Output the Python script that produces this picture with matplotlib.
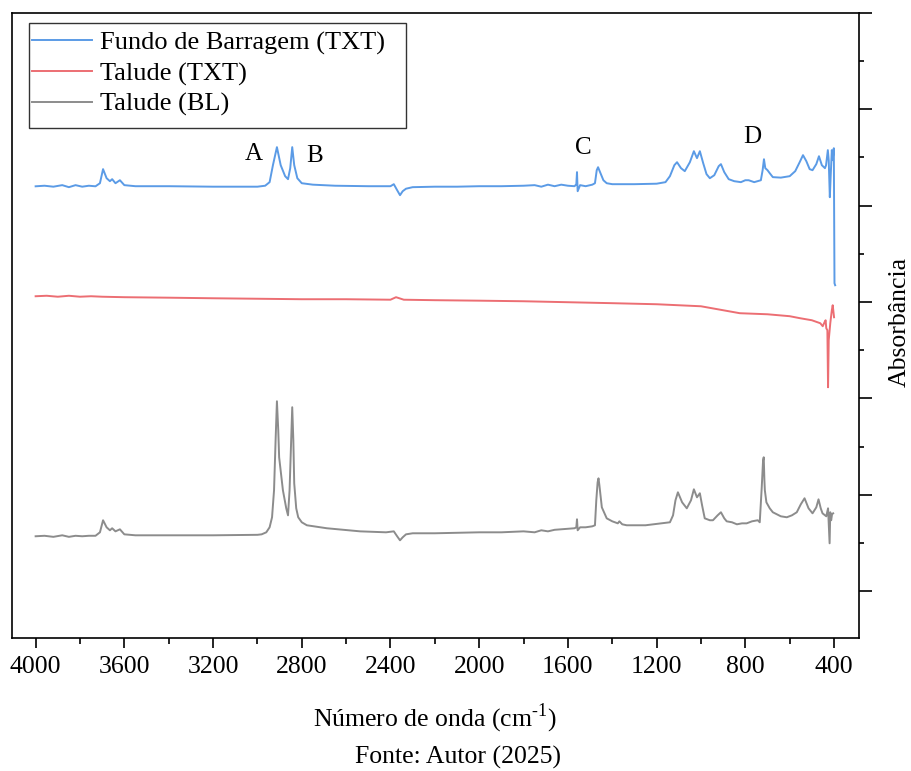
import numpy as np
import matplotlib
matplotlib.use("Agg")
import matplotlib.pyplot as plt
from matplotlib.ticker import MultipleLocator, NullFormatter
from matplotlib.patches import Rectangle

plt.rcParams['font.family'] = ['Liberation Serif', 'DejaVu Serif']
plt.rcParams['mathtext.fontset'] = 'custom'
plt.rcParams['mathtext.rm'] = 'Liberation Serif'

# FTIR spectra, values (absorbance in arbitrary units, stacked)
wn_fundo = [4000, 3960, 3920, 3880, 3850, 3820, 3790, 3760, 3730, 3710, 3696, 3680, 3665, 3655, 3640,
            3620, 3600, 3550, 3400, 3200, 3000, 2965, 2945, 2930, 2912, 2895, 2875, 2862, 2852, 2843,
            2834, 2820, 2800, 2750, 2650, 2500, 2400, 2385, 2370, 2357, 2345, 2330, 2300, 2200, 2100,
            2000, 1900, 1800, 1750, 1720, 1690, 1660, 1630, 1600, 1570, 1562, 1559, 1556, 1545, 1520,
            1490, 1478, 1470, 1464, 1455, 1440, 1425, 1400, 1300, 1200, 1160, 1140, 1120, 1108, 1090,
            1073, 1050, 1032, 1018, 1005, 990, 975, 960, 940, 920, 910, 895, 875, 850, 820,
            800, 785, 760, 730, 722, 716, 710, 700, 690, 676, 640, 600, 575, 555, 540,
            525, 510, 497, 480, 468, 455, 441, 436, 428, 424, 419, 415, 410, 406, 401, 398, 395]
abs_fundo = [4.20, 4.206, 4.196, 4.212, 4.191, 4.212, 4.196, 4.206, 4.20, 4.232, 4.378, 4.284, 4.253, 4.274, 4.232,
             4.263, 4.212, 4.201, 4.201, 4.196, 4.196, 4.206, 4.243, 4.419, 4.606, 4.419, 4.305, 4.274, 4.388, 4.606,
             4.419, 4.284, 4.232, 4.217, 4.206, 4.201, 4.201, 4.222, 4.160, 4.108, 4.149, 4.175, 4.191, 4.196, 4.196,
             4.201, 4.201, 4.206, 4.212, 4.196, 4.217, 4.201, 4.217, 4.206, 4.201, 4.222, 4.347, 4.149, 4.212, 4.201,
             4.217, 4.232, 4.367, 4.398, 4.347, 4.263, 4.232, 4.222, 4.222, 4.227, 4.243, 4.305, 4.419, 4.450, 4.388,
             4.357, 4.450, 4.564, 4.492, 4.564, 4.440, 4.326, 4.284, 4.315, 4.409, 4.430, 4.347, 4.274, 4.253, 4.243,
             4.263, 4.263, 4.243, 4.263, 4.367, 4.481, 4.388, 4.367, 4.336, 4.295, 4.290, 4.305, 4.357, 4.450, 4.523,
             4.461, 4.378, 4.367, 4.430, 4.512, 4.419, 4.388, 4.419, 4.575, 4.471, 4.087, 4.315, 4.575, 4.471, 4.595, 3.195, 3.174]

wn_talude_txt = [4000, 3950, 3900, 3850, 3800, 3750, 3700, 3600, 3400, 3200, 3000, 2800, 2600, 2400,
                 2375, 2360, 2340, 2200, 2000, 1800, 1600, 1400, 1200, 1000, 825, 700, 600, 553,
                 500, 462, 451, 443, 438, 435, 430, 427, 424, 417, 410, 406, 400]
abs_talude_txt = [3.060, 3.065, 3.055, 3.065, 3.055, 3.060, 3.055, 3.050, 3.045, 3.039, 3.034, 3.029, 3.029, 3.024,
                  3.050, 3.039, 3.024, 3.019, 3.014, 3.008, 2.998, 2.988, 2.977, 2.956, 2.884, 2.873, 2.853, 2.832,
                  2.811, 2.780, 2.749, 2.790, 2.811, 2.728, 2.708, 2.116, 2.604, 2.780, 2.915, 2.967, 2.842]

wn_talude_bl = [4000, 3960, 3920, 3880, 3850, 3820, 3790, 3760, 3730, 3710, 3696, 3680, 3665, 3655, 3640,
                3620, 3600, 3550, 3400, 3200, 3000, 2981, 2960, 2945, 2934, 2925, 2918, 2912, 2906, 2902,
                2885, 2870, 2862, 2855, 2848, 2843, 2838, 2834, 2825, 2816, 2800, 2777, 2687, 2537, 2420,
                2385, 2370, 2357, 2345, 2330, 2300, 2200, 2000, 1900, 1800, 1750, 1720, 1690, 1660, 1630,
                1600, 1570, 1562, 1559, 1556, 1545, 1520, 1490, 1478, 1472, 1466, 1462, 1458, 1447, 1425,
                1400, 1375, 1368, 1355, 1335, 1250, 1140, 1126, 1115, 1104, 1085, 1064, 1045, 1032, 1018,
                1005, 995, 983, 960, 946, 925, 910, 895, 884, 860, 838, 815, 794, 770, 744,
                735, 726, 720, 717, 714, 712, 705, 690, 676, 640, 613, 590, 568, 550, 533,
                515, 497, 480, 470, 460, 452, 435, 427, 420, 417, 413, 409, 404]
abs_talude_bl = [0.571, 0.576, 0.565, 0.581, 0.565, 0.576, 0.571, 0.576, 0.576, 0.612, 0.737, 0.664, 0.633, 0.654, 0.622,
                 0.643, 0.591, 0.581, 0.581, 0.581, 0.586, 0.591, 0.612, 0.664, 0.768, 1.048, 1.566, 1.971, 1.670, 1.390,
                 1.048, 0.861, 0.788, 1.048, 1.566, 1.909, 1.566, 1.120, 0.861, 0.768, 0.716, 0.685, 0.654, 0.622, 0.612,
                 0.622, 0.571, 0.529, 0.560, 0.591, 0.602, 0.602, 0.612, 0.612, 0.622, 0.612, 0.633, 0.622, 0.638, 0.643,
                 0.648, 0.654, 0.664, 0.747, 0.633, 0.664, 0.664, 0.674, 0.685, 0.944, 1.131, 1.172, 1.100, 0.871, 0.757,
                 0.726, 0.705, 0.726, 0.695, 0.685, 0.685, 0.716, 0.788, 0.944, 1.027, 0.923, 0.861, 0.944, 1.058, 0.975,
                 1.017, 0.892, 0.757, 0.737, 0.737, 0.788, 0.820, 0.757, 0.726, 0.716, 0.695, 0.705, 0.705, 0.726, 0.737,
                 0.716, 1.079, 1.359, 1.390, 1.151, 1.048, 0.923, 0.861, 0.820, 0.778, 0.768, 0.788, 0.820, 0.902, 0.965,
                 0.861, 0.809, 0.871, 0.954, 0.861, 0.809, 0.778, 0.861, 0.498, 0.820, 0.737, 0.799, 0.809]

labels = ['Fundo de Barragem (TXT)', 'Talude (TXT)', 'Talude (BL)']
colors = ['#5b9be6', '#ec6e73', '#8c8c8c']

# band labels
band_txt = ['A', 'B', 'C', 'D']
band_x = [3015, 2744, 1532, 770]
band_y = [4.54, 4.51, 4.60, 4.71]

fig = plt.figure(figsize=(9.12, 7.71), dpi=100)
ax = fig.add_axes([0.0128, 0.173, 0.9292, 0.8105])

ax.plot(wn_fundo, abs_fundo, color=colors[0], lw=1.4, label=labels[0])
ax.plot(wn_talude_txt, abs_talude_txt, color=colors[1], lw=1.4, label=labels[1])
ax.plot(wn_talude_bl, abs_talude_bl, color=colors[2], lw=1.4, label=labels[2])

for t, x, y in zip(band_txt, band_x, band_y):
    ax.text(x, y, t, fontsize=18, ha='center', va='center')

ax.set_xlim(4108, 287)
ax.set_ylim(-0.48, 6.0)

ax.xaxis.set_major_locator(MultipleLocator(400))
ax.xaxis.set_minor_locator(MultipleLocator(200))
ax.yaxis.set_major_locator(MultipleLocator(1))
ax.yaxis.set_minor_locator(MultipleLocator(0.5))
ax.yaxis.set_major_formatter(NullFormatter())
ax.tick_params(axis='x', which='major', direction='out', length=7.5, width=1.2,
               labelsize=18.5, pad=6, top=False)
ax.tick_params(axis='x', which='minor', direction='out', length=4, width=1.2, top=False)
ax.tick_params(axis='y', which='major', direction='out', length=9, width=1.2,
               left=False, right=True, labelleft=False)
ax.tick_params(axis='y', which='minor', direction='out', length=3.5, width=1.2,
               left=False, right=True)
for s in ax.spines.values():
    s.set_linewidth(1.2)

# legend without its own frame, box drawn separately
leg = ax.legend(loc='upper left', bbox_to_anchor=(32 / 912, 1 - 31 / 771),
                bbox_transform=fig.transFigure, fontsize=19, frameon=False,
                handlelength=2.27, handletextpad=0.3, borderpad=0, labelspacing=0.26,
                borderaxespad=0)
fig.patches.append(Rectangle((29 / 912, 1 - 128 / 771), 377 / 912, 105 / 771,
                             transform=fig.transFigure, fill=False,
                             edgecolor='#333333', lw=1.0))

fig.text(0.477, 0.069, 'Número de onda (cm$^{\\mathregular{\u20101}}$)', fontsize=18.5,
         ha='center', va='center')
fig.text(0.502, 0.017, 'Fonte: Autor (2025)', fontsize=18.5, ha='center', va='center')
fig.text(0.987, 0.582, 'Absorbância', fontsize=18.5, rotation=90, ha='center', va='center')

fig.savefig('out.png', dpi=100)
